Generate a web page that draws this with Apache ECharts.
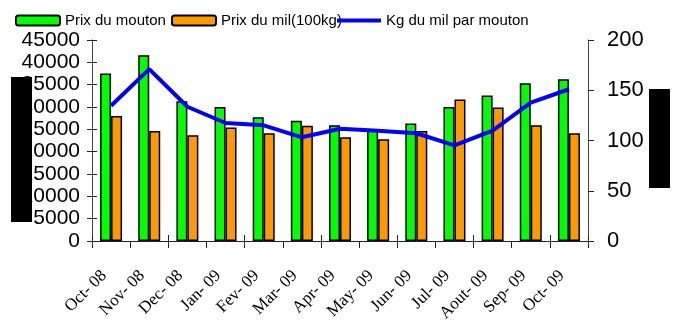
<!DOCTYPE html>
<html>
<head>
    <meta http-equiv="Content-Type" content="text/html; charset=utf-8" />
    <title>Prix du mouton et du mil</title>
    <style>
        html, body { margin: 0; padding: 0; background: #fff; }
        #main { width: 684px; height: 322px; }
    </style>
</head>
<body>
    <div id="main"></div>
    <script src="https://cdn.jsdelivr.net/npm/echarts@6/dist/echarts.min.js"></script>
    <script type="text/javascript">
        var months = ['Oct- 08', 'Nov- 08', 'Dec- 08', 'Jan- 09', 'Fev- 09', 'Mar- 09', 'Apr- 09',
            'May- 09', 'Jun- 09', 'Jul- 09', 'Aout- 09', 'Sep- 09', 'Oct- 09'];
        var prixMouton = [37500, 41600, 31300, 30000, 27700, 26900, 25900, 25000, 26300, 30000, 32600, 35300, 36200];
        var prixMil = [28000, 24600, 23700, 25400, 24100, 25800, 23200, 22800, 24600, 31700, 29900, 25900, 24100];
        var kgParMouton = [134.6, 171, 133.6, 117.4, 115.1, 103.2, 111.7, 109.8, 107.2, 95.2, 109.8, 137.6, 151];

        var sans = '"Liberation Sans Narrow", "Liberation Sans", sans-serif';

        // one legend per entry so each sits where the original puts it
        function legendAt(left, item) {
            return {
                left: left,
                top: 8,
                itemWidth: 44,
                itemHeight: 10,
                textStyle: { fontFamily: sans, fontSize: 15, color: '#000' },
                data: [item]
            };
        }

        var myChart = echarts.init(document.getElementById('main'));

        var option = {
            animation: false,
            legend: [
                legendAt(10, { name: 'Prix du mouton' }),
                legendAt(166, { name: 'Prix du mil(100kg)' }),
                legendAt(332, { name: 'Kg du mil par mouton', icon: 'path://M0,0H44V4H0Z' })
            ],
            grid: {
                left: 92,
                right: 96,
                top: 40,
                bottom: 81,
                containLabel: false,
                outerBoundsMode: 'none'
            },
            xAxis: [{
                type: 'category',
                data: months,
                axisLine: { lineStyle: { color: '#222', width: 1 } },
                axisTick: { show: true, alignWithLabel: false, length: 7, lineStyle: { color: '#222' } },
                axisLabel: {
                    rotate: 45,
                    margin: 25,
                    padding: [0, 10, 0, 0],
                    fontFamily: 'Liberation Serif',
                    fontSize: 17,
                    color: '#000',
                    interval: 0
                }
            }, {
                type: 'category',
                data: months,
                position: 'bottom',
                axisLine: { show: false },
                axisTick: { show: true, inside: true, length: 6, lineStyle: { color: '#222' } },
                axisLabel: { show: false }
            }],
            yAxis: [{
                type: 'value',
                min: 0,
                max: 45000,
                interval: 5000,
                position: 'left',
                splitLine: { show: false },
                axisLine: { show: true, lineStyle: { color: '#444' } },
                axisTick: { show: true, length: 5, lineStyle: { color: '#222' } },
                axisLabel: {
                    margin: 12,
                    fontFamily: sans,
                    fontSize: 21,
                    color: '#000',
                    formatter: function (v) { return String(v); }
                }
            }, {
                type: 'value',
                min: 0,
                max: 200,
                interval: 50,
                position: 'right',
                splitLine: { show: false },
                axisLine: { show: true, lineStyle: { color: '#444' } },
                axisTick: { show: true, length: 6, lineStyle: { color: '#222' } },
                axisLabel: {
                    margin: 19,
                    fontFamily: 'Liberation Sans',
                    fontSize: 22,
                    color: '#000'
                }
            }, {
                type: 'value',
                min: 0,
                max: 45000,
                interval: 5000,
                position: 'left',
                splitLine: { show: false },
                axisLine: { show: false },
                axisTick: { show: true, inside: true, length: 5, lineStyle: { color: '#222' } },
                axisLabel: { show: false }
            }],
            series: [{
                name: 'Prix du mouton',
                type: 'bar',
                barWidth: 11,
                barGap: '0%',
                data: prixMouton,
                itemStyle: { color: '#00FF00', borderColor: '#000', borderWidth: 1.5 }
            }, {
                name: 'Prix du mil(100kg)',
                type: 'bar',
                barWidth: 11,
                barGap: '0%',
                data: prixMil,
                itemStyle: { color: '#FF9900', borderColor: '#000', borderWidth: 1.5 }
            }, {
                name: 'Kg du mil par mouton',
                type: 'line',
                yAxisIndex: 1,
                symbol: 'none',
                showSymbol: false,
                data: kgParMouton,
                itemStyle: { color: '#0000FF' },
                lineStyle: { color: '#0000FF', width: 4 }
            }],
            graphic: [
                { type: 'rect', left: 11, top: 77, shape: { width: 21, height: 145 }, style: { fill: '#000' } },
                { type: 'rect', left: 649, top: 89, shape: { width: 21, height: 99 }, style: { fill: '#000' } }
            ]
        };

        myChart.setOption(option);
    </script>
</body>
</html>
